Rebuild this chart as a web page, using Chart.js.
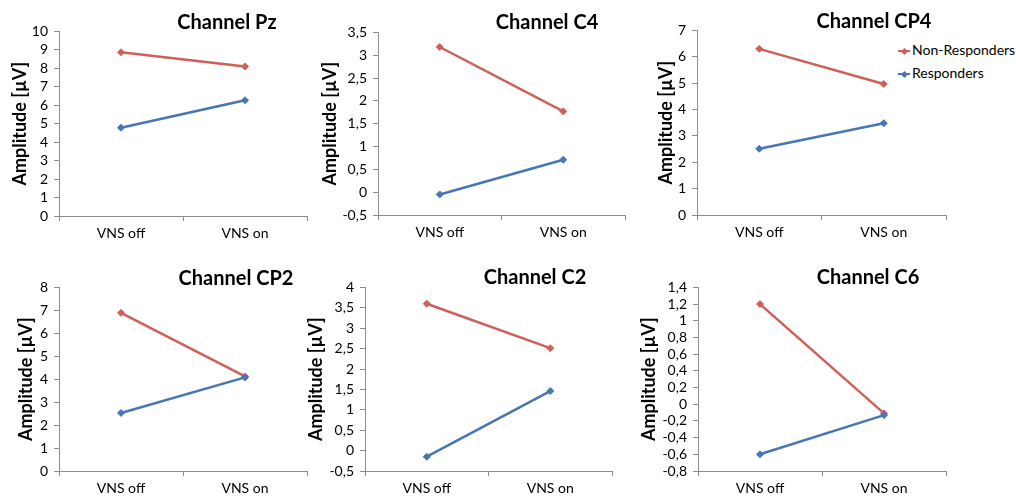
<!DOCTYPE html>
<html>
<head>
<meta charset="utf-8">
<title>VNS amplitude by channel</title>
<script src="https://cdn.jsdelivr.net/npm/chart.js@4.4.1/dist/chart.umd.min.js"></script>
<style>
  html, body { margin: 0; padding: 0; background: #fff; }
  #board { position: relative; width: 1016px; height: 500px; overflow: hidden; font-family: Lato, "Open Sans", sans-serif; }
  .panel { position: absolute; }
  .panel canvas { position: absolute; left: 0; top: 0; }
  .ttl { position: absolute; font-weight: bold; font-size: 20px; white-space: nowrap; color: #000; transform: translate(-50%, -50%); }
  #legend { position: absolute; left: 898px; top: 38px; font-size: 14px; color: #000; }
  .lg-row { height: 23px; line-height: 23px; white-space: nowrap; }
  .lg-mark { position: relative; display: inline-block; width: 12px; height: 8px; margin-right: 2px; vertical-align: middle; }
  .lg-mark::before { content: ''; position: absolute; left: 0; right: 0; top: 3px; height: 2px; background: var(--c); }
  .lg-mark::after { content: ''; position: absolute; left: 3.5px; top: 1.5px; width: 5px; height: 5px; background: var(--c); transform: rotate(45deg); }
</style>
</head>
<body>
<div id="board"><div id="legend"></div></div>
<script>
/* ---- data ---------------------------------------------------- */
const categories = ['VNS off', 'VNS on'];
const channels = ['Pz', 'C4', 'CP4', 'CP2', 'C2', 'C6'];
const nonResponders = [[8.87, 8.1], [3.18, 1.77], [6.3, 4.97], [6.89, 4.12], [3.6, 2.51], [1.2, -0.11]];
const responders = [[4.78, 6.27], [-0.05, 0.71], [2.51, 3.48], [2.53, 4.08], [-0.15, 1.46], [-0.6, -0.13]];
const yMin = [0, -0.5, 0, 0, -0.5, -0.8];
const yMax = [10, 3.5, 7, 8, 4, 1.4];
const yStep = [1, 0.5, 1, 1, 0.5, 0.2];

/* ---- look ---------------------------------------------------- */
const RED = '#CF5F59';
const BLUE = '#4677B4';
const AXIS = '#8C8C8C';
const INK = '#000';
const PAD_T = 10, PAD_R = 10, X_H = 30;

// plot box per panel: axis x, top, right, bottom; yw = width of y tick/title strip; title centre
const PANELS = [
  { axis: 59,  top: 27,  right: 307, bottom: 216, yw: 54, tx: 227, ty: 21 },
  { axis: 378, top: 28,  right: 625, bottom: 215, yw: 63, tx: 547, ty: 21 },
  { axis: 697, top: 26,  right: 946, bottom: 215, yw: 46, tx: 874, ty: 20 },
  { axis: 59,  top: 283, right: 307, bottom: 471, yw: 48, tx: 236, ty: 277 },
  { axis: 365, top: 283, right: 612, bottom: 471, yw: 64, tx: 535, ty: 276 },
  { axis: 698, top: 283, right: 946, bottom: 471, yw: 64, tx: 868, ty: 276 },
];

Chart.defaults.font.family = "Lato, 'Open Sans', sans-serif";
Chart.defaults.color = INK;

function fmt(v) {
  return Number(v.toFixed(2)).toString().replace('.', ',');
}

/* HTML legend built from the chart's own legend labels */
const htmlLegend = {
  id: 'htmlLegend',
  afterUpdate(chart, args, opts) {
    if (!opts.containerID) return;
    const box = document.getElementById(opts.containerID);
    box.innerHTML = '';
    const items = chart.options.plugins.legend.labels.generateLabels(chart)
      .sort((a, b) => a.datasetIndex - b.datasetIndex);
    items.forEach(it => {
      const row = document.createElement('div');
      row.className = 'lg-row';
      const mk = document.createElement('span');
      mk.className = 'lg-mark';
      mk.style.setProperty('--c', it.strokeStyle);
      row.appendChild(mk);
      row.appendChild(document.createTextNode(it.text));
      box.appendChild(row);
    });
  },
};

function series(label, values, color, order) {
  return {
    label, data: values, order,
    borderColor: color, backgroundColor: color,
    borderWidth: 2.5,
    pointStyle: 'rectRot', pointRadius: 3.5, pointBorderWidth: 1,
    pointHoverRadius: 3.5,
  };
}

function makePanel(i) {
  const p = PANELS[i];
  const board = document.getElementById('board');
  const w = p.yw + (p.right - p.axis) + PAD_R;
  const h = PAD_T + (p.bottom - p.top) + X_H;

  const div = document.createElement('div');
  div.className = 'panel';
  div.style.left = (p.axis - p.yw) + 'px';
  div.style.top = (p.top - PAD_T) + 'px';
  div.style.width = w + 'px';
  div.style.height = h + 'px';
  const canvas = document.createElement('canvas');
  canvas.width = w; canvas.height = h;
  div.appendChild(canvas);
  board.appendChild(div);

  const t = document.createElement('div');
  t.className = 'ttl';
  t.style.left = p.tx + 'px';
  t.style.top = p.ty + 'px';
  t.textContent = 'Channel ' + channels[i];
  board.appendChild(t);

  new Chart(canvas, {
    type: 'line',
    data: {
      labels: categories,
      datasets: [
        series('Non-Responders', nonResponders[i], RED, 1),
        series('Responders', responders[i], BLUE, 0),
      ],
    },
    options: {
      responsive: false, animation: false,
      layout: { padding: { top: PAD_T, right: PAD_R, left: 0, bottom: 0 } },
      plugins: {
        legend: { display: false },
        tooltip: { enabled: false },
        htmlLegend: { containerID: channels[i] === 'CP4' ? 'legend' : null },
      },
      scales: {
        x: {
          offset: true,
          grid: { offset: true, drawOnChartArea: false, tickLength: 5, color: AXIS },
          border: { color: AXIS },
          ticks: { padding: 4, color: INK, font: { size: 14 } },
          afterFit: s => { s.height = X_H; },
        },
        y: {
          min: yMin[i], max: yMax[i],
          grid: { drawOnChartArea: false, tickLength: 5, color: AXIS },
          border: { color: AXIS },
          ticks: { stepSize: yStep[i], autoSkip: false, padding: 6, color: INK, font: { size: 14 }, callback: v => fmt(v) },
          title: { display: true, text: 'Amplitude [µV]', color: INK, font: { size: 18, weight: 'bold' }, padding: { top: 4, bottom: 4 } },
          afterFit: s => { s.width = p.yw; },
        },
      },
    },
    plugins: [htmlLegend],
  });
}

channels.forEach((c, i) => makePanel(i));
</script>
</body>
</html>
